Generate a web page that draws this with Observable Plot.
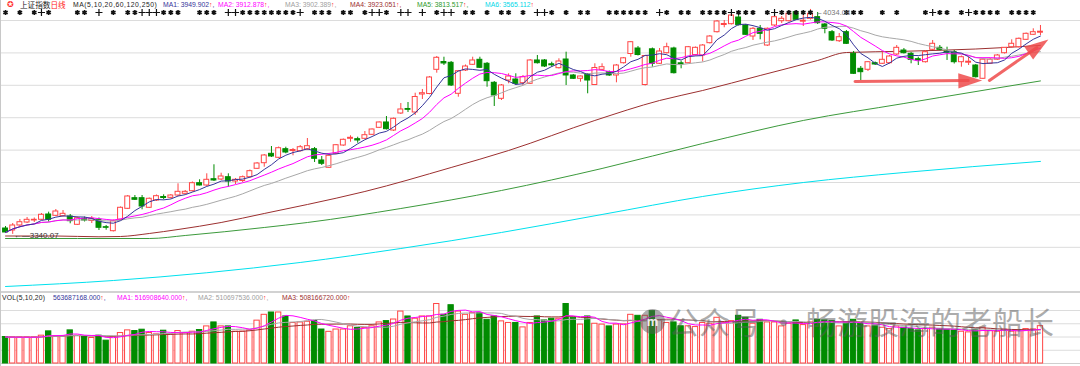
<!DOCTYPE html>
<html lang="zh">
<head>
<meta charset="utf-8">
<script src="https://cdn.jsdelivr.net/npm/d3@7"></script>
<script src="https://cdn.jsdelivr.net/npm/@observablehq/plot@0.6"></script>
<style>
html,body{margin:0;padding:0;background:#fff;}
#wrap{position:relative;width:1080px;height:366px;overflow:hidden;background:#fff;}
#main,#vol{position:absolute;left:0;}
#main{top:0;} #vol{top:290px;}
.tk{position:absolute;white-space:pre;font-family:"Liberation Sans",Arial,sans-serif;font-size:6.8px;line-height:10px;}
.cjk{font-family:"Noto Sans CJK SC",sans-serif;font-size:7.6px;}
.wm{position:absolute;font-family:"Noto Sans CJK SC",sans-serif;font-size:31px;line-height:34px;color:rgba(90,90,90,0.5);white-space:pre;}
</style>
</head>
<body>
<div id="wrap">
  <div id="main"></div>
  <div id="vol"></div>
</div>
<script>
// ---------------- data (上证指数 日线) ----------------
const open = [
3358.1,3351.9,3367.4,3376.6,3382.8,3385.0,3401.3,3397.3,3396.0,3395.1,
3369.5,3388.0,3381.3,3385.0,3362.1,3349.8,3385.0,3418.9,3451.6,3451.6,
3422.0,3444.5,3455.3,3452.8,3459.9,3465.2,3473.2,3497.9,3490.8,3510.2,
3509.3,3516.4,3503.1,3504.7,3516.4,3542.3,3559.6,3588.6,3576.3,3602.8,
3597.3,3596.6,3601.9,3602.8,3568.0,3545.4,3588.6,3614.2,3634.9,3633.7,
3634.9,3647.2,3668.8,3685.3,3660.5,3713.0,3726.9,3716.1,3771.6,3773.2,
3847.8,3871.9,3869.4,3773.8,3845.7,3863.3,3878.7,3866.4,3807.7,3758.3,
3814.8,3817.9,3806.5,3804.6,3876.6,3876.6,3864.8,3852.8,3879.6,3830.3,
3820.1,3833.4,3800.9,3847.8,3840.4,3830.3,3868.2,3896.6,3913.6,3800.9,
3911.1,3866.4,3899.1,3913.6,3867.9,3868.2,3893.5,3892.0,3930.0,3963.9,
3986.1,3988.6,4009.2,3984.6,3950.6,3974.4,3922.8,3984.6,3997.8,3997.8,
4025.6,3996.3,4005.2,4010.2,3987.7,3963.9,3936.1,3963.9,3897.2,3850.9,
3847.9,3868.2,3866.4,3868.2,3895.1,3907.4,3897.2,3880.6,3871.3,3909.6,
3915.7,3903.7,3902.2,3871.3,3869.7,3861.1,3820.1,3866.4,3879.1,3899.1,
3917.6,3917.6,3940.4,3955.9,3962.3];
const high = [
3364.3,3373.5,3385.9,3392.1,3390.5,3404.4,3408.5,3416.7,3413.6,3401.3,
3393.6,3393.6,3395.1,3390.5,3367.4,3384.4,3424.5,3459.9,3459.9,3459.9,
3452.2,3461.5,3462.0,3463.0,3496.0,3475.4,3501.6,3508.4,3526.9,3554.7,
3528.7,3526.9,3512.4,3520.1,3538.6,3561.8,3586.5,3611.1,3609.6,3609.0,
3605.0,3614.2,3635.8,3608.1,3580.3,3584.9,3617.3,3634.3,3644.2,3639.8,
3657.4,3665.2,3686.8,3703.7,3699.1,3743.8,3746.9,3775.6,3787.1,3827.2,
3888.9,3886.7,3873.5,3845.7,3862.7,3886.7,3886.7,3870.4,3811.7,3802.5,
3835.5,3835.5,3830.3,3879.6,3892.0,3879.6,3871.3,3881.8,3902.2,3833.4,
3828.7,3836.4,3866.4,3866.4,3844.1,3864.2,3885.8,3935.2,3919.8,3892.0,
3915.1,3913.6,3929.9,3917.6,3874.4,3919.8,3918.2,3925.9,3953.7,4000.0,
4000.0,4018.5,4030.8,3987.7,3978.4,3984.6,3976.8,4013.9,4012.3,4023.1,
4029.3,4015.4,4034.08,4024.7,3990.7,3969.1,3959.9,3969.1,3904.3,3858.0,
3873.5,3871.9,3902.2,3892.0,3922.8,3913.6,3901.2,3886.7,3907.4,3938.3,
3922.8,3917.6,3907.4,3890.4,3886.7,3864.2,3881.2,3882.7,3895.1,3916.7,
3940.4,3946.0,3961.4,3974.4,3984.6];
const low = [
3342.7,3340.07,3364.3,3373.5,3376.6,3382.8,3377.6,3395.1,3393.6,3372.6,
3367.4,3378.2,3373.5,3351.9,3352.8,3347.3,3382.8,3416.7,3444.5,3415.8,
3419.8,3441.4,3446.7,3449.2,3456.9,3463.0,3470.7,3489.3,3487.7,3503.1,
3506.2,3485.6,3493.9,3500.0,3513.9,3540.2,3547.3,3577.2,3574.1,3588.6,
3582.4,3594.2,3598.8,3561.8,3552.5,3543.3,3586.5,3611.7,3624.4,3621.3,
3632.8,3645.1,3666.8,3662.1,3657.4,3709.9,3716.1,3706.9,3756.2,3770.7,
3837.4,3861.1,3796.3,3763.3,3842.6,3861.1,3851.9,3794.1,3734.6,3753.1,
3804.6,3799.4,3799.4,3802.5,3865.7,3855.0,3855.9,3850.3,3799.4,3817.9,
3809.6,3773.8,3799.4,3845.7,3827.2,3807.7,3865.7,3886.7,3890.4,3797.8,
3855.9,3864.2,3896.6,3834.9,3850.9,3866.4,3890.4,3871.9,3927.5,3961.4,
3977.5,3986.1,3983.0,3953.7,3938.3,3940.4,3919.8,3981.5,3990.7,3995.4,
4000.0,3981.5,4001.5,3987.7,3958.9,3935.2,3932.1,3925.9,3833.4,3814.8,
3842.6,3861.1,3864.2,3865.7,3892.0,3896.6,3866.4,3861.1,3868.8,3907.4,
3905.9,3876.6,3865.7,3855.9,3861.1,3822.5,3817.9,3864.2,3876.6,3896.6,
3915.1,3915.1,3938.3,3953.7,3953.7];
const close = [
3345.8,3367.4,3377.5,3384.9,3385.0,3400.4,3385.0,3410.6,3403.4,3380.7,
3389.9,3382.8,3388.0,3360.3,3360.3,3380.6,3422.0,3456.9,3446.7,3426.0,
3449.8,3457.8,3452.2,3459.9,3471.3,3471.3,3497.9,3490.8,3508.4,3506.2,
3518.6,3503.1,3508.4,3516.4,3535.0,3558.7,3583.4,3580.3,3605.9,3592.6,
3600.3,3609.0,3612.1,3573.2,3557.8,3582.4,3615.1,3631.8,3638.0,3629.7,
3646.0,3663.6,3685.3,3664.5,3696.6,3725.4,3724.4,3763.9,3775.6,3824.1,
3884.9,3867.3,3799.4,3843.5,3858.0,3876.6,3854.0,3812.7,3768.5,3799.4,
3827.2,3804.6,3825.0,3876.6,3868.2,3858.0,3861.7,3873.5,3830.3,3820.1,
3827.2,3814.8,3853.4,3855.9,3830.3,3861.1,3883.3,3933.0,3893.5,3890.4,
3866.4,3904.3,3917.6,3837.4,3864.8,3917.6,3915.7,3922.8,3950.6,3996.9,
3989.2,4015.4,3985.5,3955.9,3974.4,3958.9,3974.4,4010.2,4005.2,4020.7,
4002.1,3999.4,4020.7,3991.7,3974.4,3938.3,3948.4,3928.1,3835.5,3840.5,
3871.3,3864.2,3878.7,3888.9,3915.7,3899.1,3878.7,3876.6,3902.2,3928.1,
3909.6,3900.6,3871.3,3886.7,3872.8,3825.0,3879.1,3879.1,3892.0,3915.7,
3928.1,3943.5,3958.9,3963.9,3965.4];
// volume, millions of shares
const volume = [
400,395,395,395,395,420,485,410,410,500,
420,400,385,420,345,400,460,500,490,510,
460,440,495,440,490,460,480,505,560,620,
560,560,480,480,500,647,735,770,770,710,
611,620,630,640,513,478,513,513,562,537,
537,562,620,640,664,784,710,676,710,710,
898,735,880,784,735,760,760,660,710,636,
612,612,545,612,710,650,676,676,898,690,
587,710,600,587,560,587,590,735,720,720,
790,650,612,620,562,562,550,612,600,690,
610,640,720,690,600,660,620,620,560,600,
650,580,620,660,650,640,560,620,660,600,
560,560,540,520,560,540,520,500,520,540,
520,510,500,480,470,500,540,490,480,510,
480,500,520,515,563.687];

const priceGrid = [3300, 3400, 3500, 3600, 3700, 3800, 3900, 4000];
const volGrid = [200, 400, 600, 800];

// long moving averages (bar index, value)
const ma60Idx = [0, 7, 13, 16, 20, 24, 30, 36, 42, 50, 62, 70, 82, 91, 97, 105, 113, 117, 125, 135, 144];
const ma60Val = [3334.9, 3334.9, 3332.5, 3333.4, 3342.7, 3355.0, 3376.6, 3404.4, 3432.2, 3472.3, 3546.3, 3598.8, 3691.5, 3753.1, 3784.0, 3830.3, 3876.6, 3901.2, 3905.0, 3912.0, 3923.1];
const ma120Idx = [0, 20, 25, 36, 42, 55, 69, 83, 97, 111, 125, 130, 144];
const ma120Val = [3327.2, 3327.2, 3336.5, 3361.2, 3376.6, 3419.8, 3475.4, 3543.3, 3620.4, 3691.5, 3743.8, 3762.4, 3813.5];
const ma250Idx = [0, 15, 41, 55, 69, 83, 97, 111, 125, 144];
const ma250Val = [3179.1, 3197.6, 3253.2, 3296.4, 3345.8, 3401.3, 3456.9, 3500.0, 3530.9, 3565.1];

// information markers along the top (bar indices)
const markerStar = [0,2,4,6,10,11,15,17,18,22,23,24,27,28,29,33,34,35,36,37,38,39,40,43,44,45,47,48,50,53,60,64,65,67,69,70,72,76,78,80,81,84,85,86,87,88,89,92,94,95,97,98,99,100,102,103,104,106,108,109,110,111,112,117,118,119,122,124,128,130,131,133,135,136,137,138,140,141,142,143];
const markerAlt = [5,13,19,20,21,31,32,41,51,52,55,56,58,61,62,74,75,91,101,107,129,134];

// hand-drawn red arrows (bar index, price)
const arrowFromI = [118.2, 136.9];
const arrowFromP = [3811.7, 3814.8];
const arrowToI = [135.9, 145.1];
const arrowToP = [3814.8, 3941.4];
const arrowAngle = [-0.7, -34.8];

// ---------------- build ----------------
const RED = "#ff4545", GREEN = "#008c00";
const candles = close.map((c, i) => ({i, o: open[i], h: high[i], l: low[i], c, v: volume[i], up: c >= open[i]}));
const xDomain = [-0.7, 149.57];
const longMA = (idx, val) => idx.map((i, k) => ({i, v: val[k]}));
const arrows = arrowFromI.map((x1, k) => ({x1, y1: arrowFromP[k], x2: arrowToI[k], y2: arrowToP[k], a: arrowAngle[k]}));
const headSymbol = {draw(ctx, size) {const s = Math.sqrt(size); ctx.moveTo(0, 0); ctx.lineTo(-s, -s * 0.32); ctx.lineTo(-s, s * 0.32); ctx.closePath();}};
const hi = d3.maxIndex(high), lo = d3.minIndex(low);

const mainPlot = Plot.plot({
  width: 1080, height: 290, margin: 0,
  x: {domain: xDomain, axis: null},
  y: {domain: [3166.76, 4061.7], axis: null},
  color: {type: "identity"},
  style: {background: "transparent", overflow: "hidden"},
  marks: [
    Plot.ruleY(priceGrid, {stroke: "#dcdcdc", strokeWidth: 1}),
    Plot.line(longMA(ma250Idx, ma250Val), {x: "i", y: "v", stroke: "#00e1ee", strokeWidth: 1, curve: "monotone-x"}),
    Plot.line(longMA(ma120Idx, ma120Val), {x: "i", y: "v", stroke: "#3c9a3c", strokeWidth: 1, curve: "monotone-x"}),
    Plot.line(longMA(ma60Idx, ma60Val), {x: "i", y: "v", stroke: "#9c3030", strokeWidth: 1, curve: "monotone-x"}),
    Plot.ruleX(candles, {x: "i", y1: "l", y2: "h", stroke: d => d.up ? RED : GREEN, strokeWidth: 1}),
    Plot.rect(candles, {x1: d => d.i - 0.34, x2: d => d.i + 0.34, y1: "o", y2: "c", fill: d => d.up ? "#ffffff" : GREEN, stroke: d => d.up ? RED : GREEN, strokeWidth: 1}),
    Plot.lineY(candles, Plot.windowY({k: 20, anchor: "end"}, {x: "i", y: "c", stroke: "#a8a8a8", strokeWidth: 1})),
    Plot.lineY(candles, Plot.windowY({k: 10, anchor: "end"}, {x: "i", y: "c", stroke: "#ff00ff", strokeWidth: 1})),
    Plot.lineY(candles, Plot.windowY({k: 5, anchor: "end"}, {x: "i", y: "c", stroke: "#35359a", strokeWidth: 1})),
    Plot.dot(markerStar, {x: d => d, frameAnchor: "top", dy: 12, symbol: "asterisk", r: 2.4, stroke: "#111", strokeWidth: 1.6}),
    Plot.dot(markerAlt, {x: d => d, frameAnchor: "top", dy: 12, symbol: "plus", r: 2.4, stroke: "#111", strokeWidth: 1.2}),
    Plot.text([hi], {x: d => d, y: d => high[d], text: d => "←" + high[d].toFixed(2), textAnchor: "start", dx: 5, dy: 3, fontSize: 7.5, fill: "#777", fontFamily: "Liberation Sans"}),
    Plot.text([lo], {x: d => d, y: d => low[d], text: d => "←—" + low[d].toFixed(2), textAnchor: "start", dx: 1, dy: 1, fontSize: 8, fill: "#333", fontFamily: "Liberation Sans"}),
    Plot.arrow(arrows, {x1: "x1", y1: "y1", x2: "x2", y2: "y2", stroke: "#ee4b4b", strokeWidth: 3, strokeOpacity: 0.85, headLength: 0, insetEnd: 14}),
    Plot.dot(arrows, {x: "x2", y: "y2", rotate: "a", symbol: headSymbol, r: 13.5, fill: "#ee4b4b", fillOpacity: 0.85, stroke: "none"})
  ]
});
document.getElementById("main").appendChild(mainPlot);

const volPlot = Plot.plot({
  width: 1080, height: 76, marginTop: 0, marginBottom: 3, marginLeft: 0, marginRight: 0,
  x: {domain: xDomain, axis: null},
  y: {domain: [0, 1102], axis: null},
  color: {type: "identity"},
  style: {background: "transparent"},
  marks: [
    Plot.ruleY(volGrid, {stroke: "#dcdcdc", strokeWidth: 1}),
    Plot.ruleY([0], {stroke: "#cfcfcf", strokeWidth: 1}),
    Plot.rect(candles, {x1: d => d.i - 0.37, x2: d => d.i + 0.37, y1: 0, y2: "v", fill: d => d.up ? "#ffffff" : GREEN, stroke: d => d.up ? RED : GREEN, strokeWidth: 1}),
    Plot.lineY(candles, Plot.windowY({k: 20, anchor: "end"}, {x: "i", y: "v", stroke: "#9c3030", strokeWidth: 1})),
    Plot.lineY(candles, Plot.windowY({k: 10, anchor: "end"}, {x: "i", y: "v", stroke: "#a8a8a8", strokeWidth: 1})),
    Plot.lineY(candles, Plot.windowY({k: 5, anchor: "end"}, {x: "i", y: "v", stroke: "#ff00ff", strokeWidth: 1}))
  ]
});
document.getElementById("vol").appendChild(volPlot);

// ---------------- header texts & decorations ----------------
const wrap = document.getElementById("wrap");
function seg(left, top, parts, cls, extra) {
  const s = document.createElement("span");
  s.className = cls || "tk";
  s.style.left = left + "px";
  s.style.top = top + "px";
  if (extra) Object.assign(s.style, extra);
  parts.forEach(([t, c]) => {
    const p = document.createElement("span");
    p.textContent = t;
    if (c) p.style.color = c;
    s.appendChild(p);
  });
  wrap.appendChild(s);
}
function bar(left, top, w, h, bg) {
  const d = document.createElement("div");
  Object.assign(d.style, {position: "absolute", left: left + "px", top: top + "px", width: w + "px", height: h + "px", background: bg});
  wrap.appendChild(d);
}
bar(0, 291, 1080, 2, "#d2d2d2");
bar(0, 0, 1, 366, "#c8c8c8");

const NAVY = "#35359a", MAG = "#ff00ff", GRAY = "#a0a0a0", BROWN = "#9c3030", MGREEN = "#2e9a2e", CYAN = "#00d8e8", ARR = "#ff2020";
seg(7, 0, [["✪", "#ff3030"]], "tk", {fontSize: "8px"});
seg(20, 0, [["上证指数", "#222"], ["日线", "#ff2020"]], "tk cjk");
seg(73, 0, [["MA(5,10,20,60,120,250)", "#222"]], "tk", {letterSpacing: "0.5px"});
const mainHdr = [
  [163, "MA1: 3949.902", NAVY],
  [218, "MA2: 3912.878", MAG],
  [285, "MA3: 3902.389", GRAY],
  [350, "MA4: 3923.051", BROWN],
  [417, "MA5: 3813.517", MGREEN],
  [485, "MA6: 3565.112", CYAN]
];
mainHdr.forEach(([l, txt, col], k) => {
  const parts = [[txt, col], ["↑", ARR]];
  if (k < mainHdr.length - 1) parts.push([",", col]);
  seg(l, 0, parts);
});

seg(2, 293, [["VOL(5,10,20)", "#222"]], "tk", {letterSpacing: "0.2px"});
const volHdr = [
  [53, "563687168.000", NAVY],
  [117, "MA1: 516908640.000", MAG],
  [198, "MA2: 510697536.000", GRAY],
  [282, "MA3: 508166720.000", BROWN]
];
volHdr.forEach(([l, txt, col], k) => {
  const parts = [[txt, col], ["↑", ARR]];
  if (k < volHdr.length - 1) parts.push([",", col]);
  seg(l, 293, parts);
});

// watermark
const logo = document.createElement("div");
Object.assign(logo.style, {position: "absolute", left: "640px", top: "309px", width: "25px", height: "25px", borderRadius: "50%", background: "rgba(90,90,90,0.5)", color: "rgba(255,255,255,0.9)", font: "bold 13px 'Liberation Sans'", textAlign: "center", lineHeight: "25px"});
logo.textContent = "m";
wrap.appendChild(logo);
seg(668, 304, [["公众号 · 畅游股海的老船长", null]], "wm");
</script>
</body>
</html>
